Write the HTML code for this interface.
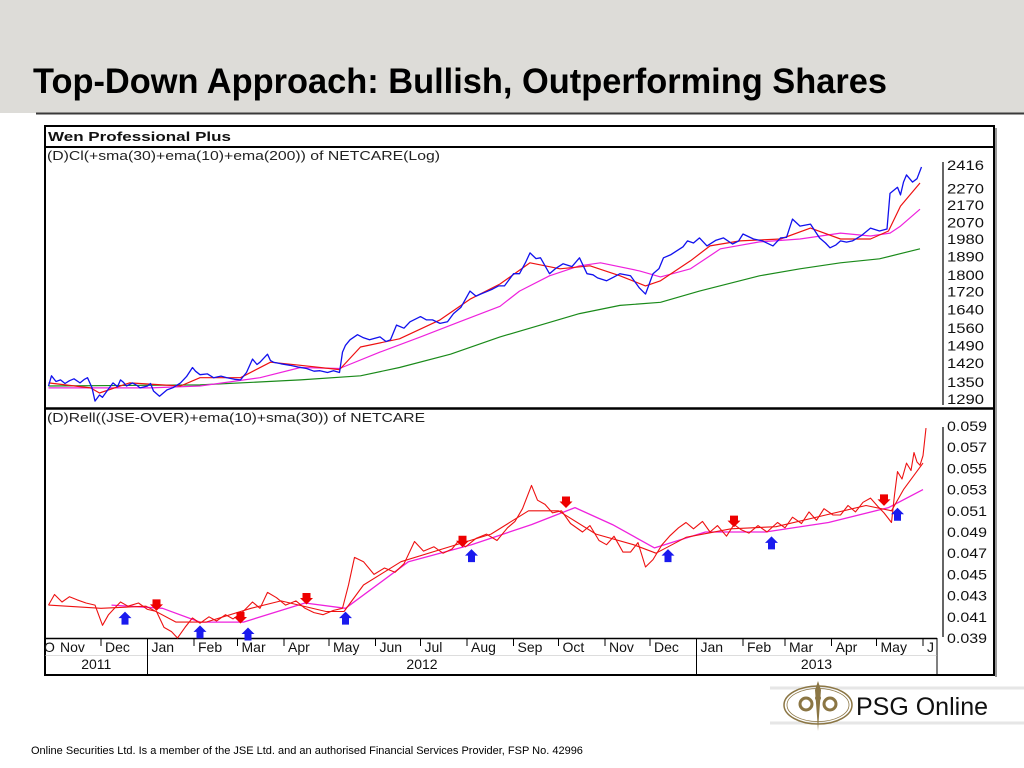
<!DOCTYPE html>
<html><head><meta charset="utf-8"><style>
html,body{margin:0;padding:0;background:#fff;}
svg{display:block;font-family:"Liberation Sans",Arial,sans-serif;}
</style></head><body>
<svg id="s" width="1024" height="768" viewBox="0 0 1024 768" xmlns="http://www.w3.org/2000/svg">
<rect x="0" y="0" width="1024" height="113" fill="#dddcd8"/>
<line x1="36" y1="113.5" x2="1024" y2="113.5" stroke="#3a3a3a" stroke-width="2"/>
<text x="33" y="93" font-size="35" font-weight="bold" fill="#000" textLength="854" lengthAdjust="spacingAndGlyphs">Top-Down Approach: Bullish, Outperforming Shares</text>

<g>
<rect x="45" y="126" width="949" height="549" fill="#fff" stroke="#000" stroke-width="2"/>
<line x1="996" y1="128" x2="996" y2="677" stroke="#999" stroke-width="2"/>
<line x1="45" y1="147" x2="994" y2="147" stroke="#000" stroke-width="2"/>
<line x1="45" y1="408.5" x2="994" y2="408.5" stroke="#000" stroke-width="2.5"/>
<line x1="45" y1="638.5" x2="937" y2="638.5" stroke="#000" stroke-width="1.5"/>
<line x1="937" y1="638" x2="937" y2="675" stroke="#000" stroke-width="1"/>
<line x1="45" y1="655.5" x2="937" y2="655.5" stroke="#bbb" stroke-width="0.5"/>
</g>
<text x="48" y="141" font-size="13" font-weight="bold" fill="#111" textLength="183" lengthAdjust="spacingAndGlyphs">Wen Professional Plus</text>
<text x="47" y="160" font-size="12.5" fill="#222" textLength="393" lengthAdjust="spacingAndGlyphs">(D)Cl(+sma(30)+ema(10)+ema(200)) of NETCARE(Log)</text>
<text x="47" y="422" font-size="12.5" fill="#222" textLength="378" lengthAdjust="spacingAndGlyphs">(D)Rell((JSE-OVER)+ema(10)+sma(30)) of NETCARE</text>
<line x1="943" y1="162" x2="943" y2="405" stroke="#000" stroke-width="1.2"/>
<line x1="943" y1="427" x2="943" y2="637" stroke="#000" stroke-width="1.2"/>
<g id="topTicks"></g><g id="botTicks"></g><g id="xAxis"></g>
<g id="topSeries"></g><g id="botSeries"></g><g id="markers"></g>

<g>
<line x1="770" y1="688" x2="1024" y2="688" stroke="#e6e6e6" stroke-width="3"/>
<line x1="770" y1="723" x2="1024" y2="723" stroke="#e6e6e6" stroke-width="3"/>
<ellipse cx="818" cy="705" rx="34" ry="19" fill="none" stroke="#8b7644" stroke-width="1.5"/>
<ellipse cx="818" cy="705" rx="31" ry="16.5" fill="none" stroke="#8b7644" stroke-width="0.8"/>
<path d="M818 681 L821 690 L819 716 L818 731 L817 716 L815 690 Z" fill="#8b7644"/>
<circle cx="806" cy="704" r="6" fill="none" stroke="#8b7644" stroke-width="3"/>
<circle cx="830" cy="704" r="6" fill="none" stroke="#8b7644" stroke-width="3"/>
<circle cx="818" cy="698" r="3" fill="#8b7644"/>
<text x="856" y="715" font-size="25" fill="#111">PSG Online</text>
</g>
<text x="31" y="754" font-size="11" fill="#000">Online Securities Ltd. Is a member of the JSE Ltd. and an authorised Financial Services Provider, FSP No. 42996</text>
</svg>
<script>
// ---- data (x = days since 1 Nov 2011) ----
const topTickLabels=[2416,2270,2170,2070,1980,1890,1800,1720,1640,1560,1490,1420,1350,1290];
const botTickLabels=[0.059,0.057,0.055,0.053,0.051,0.049,0.047,0.045,0.043,0.041,0.039];
const monthLabels=["Nov","Dec","Jan","Feb","Mar","Apr","May","Jun","Jul","Aug","Sep","Oct","Nov","Dec","Jan","Feb","Mar","Apr","May","J"];
const monthStarts=[0,30,61,92,121,152,182,213,243,274,305,335,366,396,427,458,486,517,547,578];
const yearLabels=["2011","2012","2013"];
const yearSpans=[[-8,61],[61,427],[427,587]];

const closeDays=[-5,-3,0,3,6,9,12,16,19,21,24,26,29,31,34,38,41,43,45,47,51,54,56,61,63,65,69,74,78,83,87,91,93,96,101,105,110,114,119,123,127,131,134,136,141,143,145,150,156,162,167,172,176,181,185,189,191,193,196,201,205,209,216,220,223,227,232,236,243,247,251,256,261,265,270,276,280,283,287,291,295,299,305,309,313,316,320,323,329,333,338,344,349,354,358,361,367,372,376,383,389,393,398,402,405,410,414,418,421,425,429,434,440,445,451,455,458,465,471,478,483,487,491,496,503,509,513,516,520,523,527,531,537,543,549,554,556,561,563,565,567,571,574,577];
const closeVals=[1336,1373,1352,1358,1345,1355,1362,1347,1360,1366,1330,1283,1304,1296,1318,1347,1333,1358,1349,1336,1347,1338,1329,1336,1345,1318,1300,1322,1330,1347,1370,1404,1390,1377,1380,1366,1372,1366,1360,1358,1385,1436,1415,1424,1455,1430,1424,1418,1412,1405,1400,1390,1392,1385,1392,1385,1463,1490,1512,1533,1520,1512,1524,1505,1512,1573,1560,1587,1609,1595,1595,1580,1587,1622,1650,1723,1700,1709,1720,1732,1747,1747,1805,1805,1860,1909,1880,1884,1805,1830,1854,1840,1884,1805,1800,1785,1771,1790,1805,1795,1737,1709,1805,1830,1884,1900,1920,1940,1971,1960,1987,1945,1975,1987,1955,1970,2008,1981,1971,1945,1987,1990,2090,2051,2062,1987,1960,1935,1950,1971,1965,1971,2000,2040,2024,2035,2239,2276,2230,2308,2353,2308,2329,2403];
const ema10Days=[-5,23,29,49,83,96,123,143,163,189,203,229,256,276,296,316,336,356,376,393,403,423,436,456,483,503,523,543,555,563,576];
const ema10Vals=[1347,1329,1311,1347,1336,1366,1366,1424,1412,1396,1483,1516,1595,1686,1756,1859,1829,1844,1795,1747,1771,1869,1945,1971,1981,2040,1981,1981,2024,2164,2302];
const sma30Days=[-5,63,96,136,163,189,216,243,269,296,309,329,349,363,389,403,423,443,469,496,523,543,556,563,576];
const sma30Vals=[1329,1329,1336,1366,1404,1400,1463,1524,1587,1654,1723,1795,1844,1859,1819,1790,1829,1930,1966,1981,2013,1997,2013,2051,2146];
const ema200Days=[-5,96,163,203,229,263,296,323,349,376,403,429,469,496,523,549,576];
const ema200Vals=[1336,1340,1358,1373,1404,1455,1524,1573,1622,1658,1672,1723,1795,1829,1859,1879,1930];

const relDays=[-5,-1,4,9,14,20,26,31,35,39,43,48,55,61,67,72,77,81,86,91,96,102,107,113,118,124,131,136,141,147,153,160,166,172,178,185,191,195,199,205,212,219,226,232,239,245,252,258,264,268,273,280,287,294,301,306,311,317,321,326,331,337,343,351,356,362,367,372,378,383,388,393,398,404,409,415,420,425,431,436,441,447,452,457,462,468,474,481,486,491,497,502,507,512,518,523,528,533,538,543,548,552,557,559,561,564,567,570,572,574,576,578,580];
const relVals=[0.0421,0.0431,0.0424,0.0429,0.0426,0.0423,0.0421,0.0402,0.0412,0.0418,0.0424,0.0420,0.0423,0.0417,0.0415,0.0400,0.0396,0.0390,0.0400,0.0409,0.0404,0.0410,0.0406,0.0412,0.0408,0.0414,0.0424,0.0418,0.0433,0.0428,0.0421,0.0425,0.0418,0.0414,0.0412,0.0416,0.0418,0.0440,0.0466,0.0462,0.0450,0.0456,0.0452,0.0460,0.0481,0.0472,0.0476,0.0470,0.0474,0.0481,0.0476,0.0484,0.0488,0.0482,0.0494,0.0500,0.0512,0.0534,0.0520,0.0516,0.0508,0.0510,0.0498,0.0490,0.0496,0.0482,0.0478,0.0486,0.0471,0.0471,0.0480,0.0457,0.0464,0.0478,0.0486,0.0494,0.0499,0.0493,0.0500,0.0490,0.0496,0.0486,0.0497,0.0492,0.0489,0.0496,0.0490,0.0499,0.0494,0.0504,0.0498,0.0509,0.0501,0.0512,0.0506,0.0506,0.0515,0.0509,0.0518,0.0522,0.0514,0.0508,0.0499,0.0525,0.0547,0.0540,0.0555,0.0548,0.0565,0.0556,0.0553,0.0562,0.0588];
const relEmaDays=[-5,30,60,80,100,130,150,180,192,205,230,260,290,315,335,360,385,400,420,450,480,510,540,557,565,578];
const relEmaVals=[0.0421,0.0418,0.0420,0.0405,0.0405,0.0418,0.0425,0.0415,0.0415,0.0440,0.0462,0.0475,0.0488,0.0510,0.0510,0.0488,0.0478,0.0470,0.0485,0.0493,0.0495,0.0505,0.0515,0.0510,0.0530,0.0555];
const relSmaDays=[37,71,96,125,166,193,235,277,317,346,371,399,433,473,515,555,578];
const relSmaVals=[0.0421,0.0418,0.0405,0.0405,0.0423,0.0418,0.0462,0.0478,0.0497,0.0513,0.0497,0.0475,0.0490,0.0490,0.0499,0.0513,0.0530];
const sellDays=[67,123,167,271,340,452,552];
const sellVals=[0.0418,0.0406,0.0424,0.0478,0.0515,0.0497,0.0517];
const buyDays=[46,96,128,193,277,408,477,561];
const buyVals=[0.0413,0.0400,0.0398,0.0413,0.0472,0.0472,0.0484,0.0511];

// ---- axes ----
const NS="http://www.w3.org/2000/svg";
function xS(d){return 56+d*1.5;}
function yTop(p){return 165+373*Math.log(2416/p);}
function yBot(v){return 426+(0.059-v)/0.002*21.2;}
function mk(tag,attrs,parent){const e=document.createElementNS(NS,tag);for(const k in attrs)e.setAttribute(k,attrs[k]);parent.appendChild(e);return e;}
function poly(days,vals,yf,color,w,parent,name){
  const pts=days.map((d,i)=>xS(d).toFixed(1)+","+yf(vals[i]).toFixed(1)).join(" ");
  const e=mk("polyline",{points:pts,fill:"none",stroke:color,"stroke-width":w,"stroke-linejoin":"round"},parent);
  
  
}
const tt=document.getElementById("topTicks");
topTickLabels.forEach(v=>{
  const t=mk("text",{x:947,y:(yTop(v)+5).toFixed(1),"font-size":14,fill:"#111",textLength:37,lengthAdjust:"spacingAndGlyphs"},tt);t.textContent=v;
  
  
});
const bt=document.getElementById("botTicks");
botTickLabels.forEach(v=>{
  const t=mk("text",{x:947,y:(yBot(v)+5).toFixed(1),"font-size":14,fill:"#111",textLength:40,lengthAdjust:"spacingAndGlyphs"},bt);t.textContent=v.toFixed(3);
  
  
});
const xa=document.getElementById("xAxis");
{const t=mk("text",{x:44,y:652,"font-size":14,fill:"#111"},xa);t.textContent="O";
 
 }
monthLabels.forEach((m,i)=>{
  const x=xS(monthStarts[i]);
  if(i>0){const l=mk("line",{x1:x,y1:639,x2:x,y2:646,stroke:"#000","stroke-width":1},xa);
    
    }
  const t=mk("text",{x:x+4,y:652,"font-size":14,fill:"#111"},xa);t.textContent=m;
  
  
});
yearLabels.forEach((y,i)=>{
  const a=xS(yearSpans[i][0]),b=Math.min(xS(yearSpans[i][1]),937);
  if(i>0){const l=mk("line",{x1:a,y1:639,x2:a,y2:675,stroke:"#000","stroke-width":1},xa);
    
    }
  const t=mk("text",{x:((Math.max(a,45)+b)/2).toFixed(1),y:669,"font-size":14,fill:"#111","text-anchor":"middle"},xa);t.textContent=y;
  
  
});
// ---- series ----
const ts=document.getElementById("topSeries");
poly(ema200Days,ema200Vals,yTop,"#1a8a1a",1.2,ts,"ema200-line");
poly(sma30Days,sma30Vals,yTop,"#ee22dd",1.2,ts,"sma30-line");
poly(ema10Days,ema10Vals,yTop,"#ee1111",1.2,ts,"ema10-line");
poly(closeDays,closeVals,yTop,"#1111ee",1.3,ts,"close-price-line");
const bs=document.getElementById("botSeries");
poly(relSmaDays,relSmaVals,yBot,"#ee22dd",1.3,bs,"rel-sma30-line");
poly(relEmaDays,relEmaVals,yBot,"#ee1111",1.1,bs,"rel-ema10-line");
poly(relDays,relVals,yBot,"#ee1111",1.1,bs,"relative-strength-line");
const mg=document.getElementById("markers");
sellDays.forEach((d,i)=>{
  const x=xS(d),y=yBot(sellVals[i]);
  const p=mk("path",{d:`M${x-4} ${y-9} h8 v5 h2.5 l-6.5 6.5 l-6.5 -6.5 h2.5 z`,fill:"#ee0000"},mg);
  
  
});
buyDays.forEach((d,i)=>{
  const x=xS(d),y=yBot(buyVals[i]);
  const p=mk("path",{d:`M${x} ${y-2} l6.5 6.5 h-3 v6.5 h-7 v-6.5 h-3 z`,fill:"#1a1aee"},mg);
  
  
});
</script>
</body></html>
